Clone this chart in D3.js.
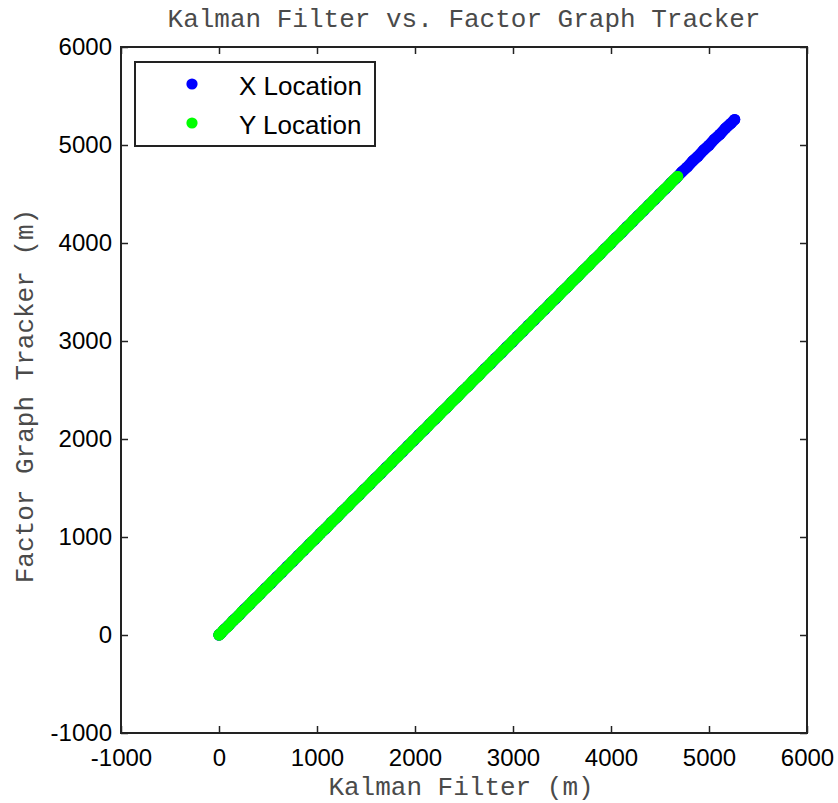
<!DOCTYPE html>
<html>
<head>
<meta charset="utf-8">
<script src="https://cdn.jsdelivr.net/npm/d3@7"></script>
<style>
  body { margin: 0; background: #fff; }
  .tick text { font-family: Arial, "Liberation Sans", sans-serif; font-size: 24px; fill: #000; }
  .tick line { stroke: #222; stroke-width: 1.5px; }
  .mono { font-family: "Courier New", "Liberation Mono", monospace; font-size: 26px; fill: #4a4a4a; }
</style>
</head>
<body>
<div id="chart"></div>
<script>
// Kalman filter estimate vs factor graph estimate (metres)
var kfX = [0, 4, 18, 52, 97, 148, 203, 255, 311, 368, 420, 476, 531, 589, 642, 700, 755, 812, 866, 925,
  979, 1036, 1090, 1148, 1203, 1258, 1315, 1369, 1427, 1481, 1538, 1594, 1649, 1706, 1760, 1818, 1872, 1929,
  1985, 2040, 2097, 2151, 2209, 2263, 2320, 2376, 2431, 2488, 2542, 2600, 2655, 2711, 2767, 2822, 2879, 2933,
  2991, 3046, 3102, 3158, 3213, 3270, 3324, 3382, 3437, 3493, 3549, 3604, 3661, 3715, 3773, 3828, 3884, 3940,
  3995, 4052, 4106, 4164, 4219, 4275, 4331, 4386, 4443, 4497, 4555, 4610, 4666, 4722, 4777, 4834, 4888, 4946,
  5001, 5057, 5113, 5168, 5222, 5262];
var fgX = [0, 6, 15, 55, 95, 151, 200, 258, 309, 371, 418, 479, 528, 592, 640, 703, 752, 815, 864, 928,
  976, 1039, 1087, 1151, 1200, 1261, 1312, 1372, 1424, 1484, 1535, 1597, 1646, 1709, 1757, 1821, 1869, 1932,
  1982, 2043, 2094, 2154, 2206, 2266, 2317, 2379, 2428, 2491, 2539, 2603, 2652, 2714, 2764, 2825, 2876, 2936,
  2988, 3049, 3099, 3161, 3210, 3273, 3321, 3385, 3434, 3496, 3546, 3607, 3658, 3718, 3770, 3831, 3881, 3943,
  3992, 4055, 4103, 4167, 4216, 4278, 4328, 4389, 4440, 4500, 4552, 4613, 4663, 4725, 4774, 4837, 4885, 4949,
  4998, 5060, 5110, 5171, 5219, 5260];

var kfY = [0, 3, 14, 45, 88, 136, 187, 236, 288, 339, 391, 441, 493, 543, 596, 646, 698, 748, 801, 851,
  903, 954, 1005, 1057, 1108, 1159, 1211, 1261, 1313, 1364, 1415, 1467, 1517, 1569, 1620, 1671, 1723, 1773,
  1825, 1876, 1927, 1979, 2029, 2081, 2132, 2183, 2235, 2285, 2337, 2388, 2439, 2491, 2541, 2593, 2644, 2695,
  2747, 2797, 2849, 2900, 2951, 3003, 3053, 3105, 3156, 3207, 3259, 3309, 3361, 3412, 3463, 3515, 3565, 3617,
  3668, 3719, 3771, 3821, 3873, 3924, 3975, 4027, 4077, 4129, 4180, 4231, 4283, 4333, 4385, 4436, 4487, 4539,
  4589, 4641, 4680];
var fgY = [0, 5, 11, 48, 85, 139, 184, 239, 285, 342, 388, 444, 490, 546, 593, 649, 695, 751, 798, 854,
  900, 957, 1002, 1060, 1105, 1162, 1208, 1264, 1310, 1367, 1412, 1470, 1514, 1572, 1617, 1674, 1720, 1776,
  1822, 1879, 1924, 1982, 2026, 2084, 2129, 2186, 2232, 2288, 2334, 2391, 2436, 2494, 2538, 2596, 2641, 2698,
  2744, 2800, 2846, 2903, 2948, 3006, 3050, 3108, 3153, 3210, 3256, 3312, 3358, 3415, 3460, 3518, 3562, 3620,
  3665, 3722, 3768, 3824, 3870, 3927, 3972, 4030, 4074, 4132, 4177, 4234, 4280, 4336, 4382, 4439, 4484, 4542,
  4586, 4644, 4678];

var xTicks = [-1000, 0, 1000, 2000, 3000, 4000, 5000, 6000];
var yTicks = [-1000, 0, 1000, 2000, 3000, 4000, 5000, 6000];
var legendLabels = ["X Location", "Y Location"];
var colors = ["#0000ff", "#00ff00"];

var svgWidth = 838, svgHeight = 803;
var margin = {top: 47, right: 31, bottom: 70, left: 121};
var width = svgWidth - margin.left - margin.right;
var height = svgHeight - margin.top - margin.bottom;

var svg = d3.select("#chart").append("svg")
  .attr("width", svgWidth)
  .attr("height", svgHeight);

var chartGroup = svg.append("g")
  .attr("transform", `translate(${margin.left}, ${margin.top})`);

var xScale = d3.scaleLinear().domain([-1000, 6000]).range([0, width]);
var yScale = d3.scaleLinear().domain([-1000, 6000]).range([height, 0]);

var dotR = 5.6;

// points: X location first, Y location drawn on top.
// the real samples are much denser than these, so a round-capped band of
// marker width joins them the way the overlapping markers do in the original
var series = [
  {a: kfX, b: fgX, color: colors[0]},
  {a: kfY, b: fgY, color: colors[1]}
];
var line = d3.line().x(d => xScale(d[0])).y(d => yScale(d[1]));
series.forEach(function(s) {
  var pts = s.a.map((v, i) => [v, s.b[i]]);
  var g = chartGroup.append("g");
  g.append("path")
    .datum(pts)
    .attr("d", line)
    .attr("fill", "none")
    .attr("stroke", s.color)
    .attr("stroke-width", dotR * 2)
    .attr("stroke-linecap", "round")
    .attr("stroke-linejoin", "round");
  g.selectAll("circle")
    .data(pts)
    .enter()
    .append("circle")
    .attr("cx", d => xScale(d[0]))
    .attr("cy", d => yScale(d[1]))
    .attr("r", dotR)
    .attr("fill", s.color);
});

// axes, ticks pointing inwards on all four sides
var fmt = d => String(d);
function styleAxis(g) {
  g.select(".domain").remove();
}
chartGroup.append("g")
  .attr("transform", `translate(0, ${height})`)
  .call(d3.axisBottom(xScale).tickValues(xTicks).tickSizeInner(-7).tickSizeOuter(0).tickPadding(16).tickFormat(fmt))
  .call(styleAxis);
chartGroup.append("g")
  .call(d3.axisTop(xScale).tickValues(xTicks).tickSizeInner(-7).tickSizeOuter(0).tickFormat(""))
  .call(styleAxis);
chartGroup.append("g")
  .call(d3.axisLeft(yScale).tickValues(yTicks).tickSizeInner(-7).tickSizeOuter(0).tickPadding(9).tickFormat(fmt))
  .call(styleAxis);
chartGroup.append("g")
  .attr("transform", `translate(${width}, 0)`)
  .call(d3.axisRight(yScale).tickValues(yTicks).tickSizeInner(-7).tickSizeOuter(0).tickFormat(""))
  .call(styleAxis);

chartGroup.append("rect")
  .attr("width", width)
  .attr("height", height)
  .attr("fill", "none")
  .attr("stroke", "#222")
  .attr("stroke-width", 2);

// legend
var legend = chartGroup.append("g").attr("transform", "translate(14, 15)");
legend.append("rect")
  .attr("width", 240)
  .attr("height", 84)
  .attr("fill", "#fff")
  .attr("stroke", "#222")
  .attr("stroke-width", 2);
legendLabels.forEach(function(label, i) {
  legend.append("circle")
    .attr("cx", 57)
    .attr("cy", 22 + i * 39)
    .attr("r", dotR)
    .attr("fill", colors[i]);
  legend.append("text")
    .attr("x", 104)
    .attr("y", 33 + i * 39)
    .style("font-family", "Arial, 'Liberation Sans', sans-serif")
    .style("font-size", "26px")
    .text(label);
});

// title and axis labels
svg.append("text")
  .attr("class", "mono")
  .attr("x", margin.left + width / 2)
  .attr("y", 27)
  .attr("text-anchor", "middle")
  .text("Kalman Filter vs. Factor Graph Tracker");

svg.append("text")
  .attr("class", "mono")
  .attr("x", margin.left + width / 2 - 3)
  .attr("y", 795)
  .attr("text-anchor", "middle")
  .text("Kalman Filter (m)");

svg.append("text")
  .attr("class", "mono")
  .attr("transform", "translate(33, 396) rotate(-90)")
  .attr("text-anchor", "middle")
  .text("Factor Graph Tracker (m)");
</script>
</body>
</html>
